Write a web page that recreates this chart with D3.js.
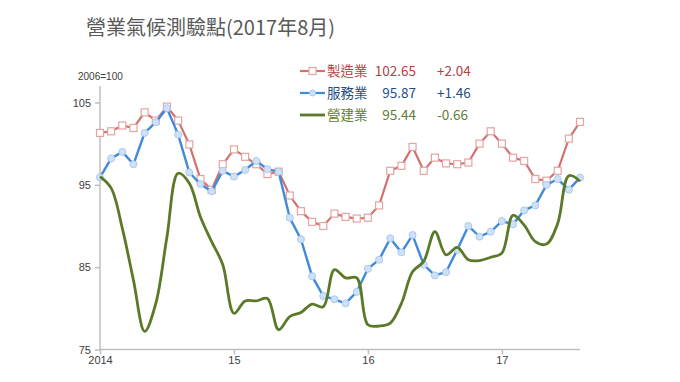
<!DOCTYPE html>
<html><head><meta charset="utf-8">
<script src="https://cdn.jsdelivr.net/npm/d3@7"></script>
<style>
html,body{margin:0;padding:0;background:#fff;}
svg{display:block;font-family:"Noto Sans CJK TC","Noto Sans",sans-serif;}
</style></head>
<body>
<svg id="c" width="680" height="382"></svg>
<script>
const title = "營業氣候測驗點(2017年8月)";
const unitLabel = "2006=100";
const yTicks = [75, 85, 95, 105];
const xTickIdx = [0, 12, 24, 36];
const xTickLabels = ["2014", "15", "16", "17"];
const seriesNames = ["製造業", "服務業", "營建業"];
const latestText = ["102.65", "95.87", "95.44"];
const changeText = ["+2.04", "+1.46", "-0.66"];

// monthly Jan 2014 .. Aug 2017
const manufacturing = [101.3,101.5,102.2,101.9,103.8,102.8,104.5,102.8,99.9,95.7,94.4,97.5,
  99.3,98.4,97.5,96.3,96.6,93.7,91.8,90.5,90.0,91.5,91.1,90.9,
  91.0,92.5,96.7,97.3,99.6,96.7,98.3,97.6,97.5,97.7,100.0,101.5,
  100.0,98.3,97.9,95.7,95.5,96.7,100.61,102.65];
const services = [95.9,98.2,99.0,97.5,101.3,102.6,104.3,101.1,96.5,95.1,94.2,96.7,
  96.0,96.8,97.9,96.9,96.6,91.0,88.4,83.9,81.5,81.1,80.6,82.0,
  84.8,85.9,88.5,86.8,88.9,85.3,84.0,84.4,87.1,90.0,88.7,89.3,
  90.6,90.2,91.9,92.5,95.0,95.7,94.41,95.87];
const construction = [96.0,94.6,89.7,83.4,77.2,80.6,88.7,96.4,95.2,91.1,88.1,85.3,
  79.4,80.9,80.9,81.2,77.4,79.0,79.5,80.5,80.2,84.7,83.7,83.7,
  78.0,77.85,78.2,80.6,84.45,85.7,89.3,86.5,87.4,85.9,85.8,86.2,
  86.7,91.3,90.1,88.1,87.8,90.3,96.1,95.44];

const svg = d3.select("#c");
const x = d3.scaleLinear().domain([0, manufacturing.length - 1]).range([100, 580]);
const y = d3.scaleLinear().domain([75, 107]).range([349.5, 86]);

// title
svg.append("text").attr("x", 86).attr("y", 35).attr("font-size", 20).attr("fill", "#595959").text(title);
svg.append("text").attr("x", 78).attr("y", 80).attr("font-size", 10).attr("fill", "#404040")
  .attr("font-family", "'Liberation Sans',Arial,sans-serif").text(unitLabel);

// axes
const axisColor = "#bfbfbf";
const gy = svg.append("g").attr("transform", "translate(100,0)")
  .call(d3.axisLeft(y).tickValues(yTicks).tickSize(5).tickPadding(4));
const gx = svg.append("g").attr("transform", "translate(0,349.5)")
  .call(d3.axisBottom(x).tickValues(xTickIdx).tickFormat((d, i) => xTickLabels[i]).tickSize(5).tickPadding(2));
[gy, gx].forEach(g => {
  g.select(".domain").attr("stroke", axisColor).attr("stroke-width", 1.5);
  g.selectAll(".tick line").attr("stroke", axisColor).attr("stroke-width", 1.5);
  g.selectAll("text").attr("font-size", 11).attr("fill", "#404040")
    .attr("font-family", "'Liberation Sans',Arial,sans-serif");
});
gy.select(".domain").attr("d", `M0,${y(107)}V${y(75)}`);
gx.select(".domain").attr("d", `M${x(0)},0H${x(manufacturing.length - 1)}`);

const idx = d3.range(manufacturing.length);
const lineStraight = d => d3.line().x((v, i) => x(i)).y(v => y(v))(d);
const lineSmooth = d => d3.line().x((v, i) => x(i)).y(v => y(v)).curve(d3.curveCatmullRom.alpha(0.5))(d);

const redLine = "#d2716f", redStroke = "#e7a3a2";
const blueLine = "#4389d9", blueFill = "#cfe1f6", blueStroke = "#a9c9ef";
const greenLine = "#5a7a2a";

// manufacturing
svg.append("path").attr("d", lineStraight(manufacturing)).attr("fill", "none")
  .attr("stroke", redLine).attr("stroke-width", 2.2);
svg.append("g").selectAll("rect").data(manufacturing).join("rect")
  .attr("x", (v, i) => x(i) - 3.5).attr("y", v => y(v) - 3.5).attr("width", 7).attr("height", 7)
  .attr("fill", "#fff").attr("stroke", redStroke).attr("stroke-width", 1.2);

// services
svg.append("path").attr("d", lineStraight(services)).attr("fill", "none")
  .attr("stroke", blueLine).attr("stroke-width", 2.4);
svg.append("g").selectAll("circle").data(services).join("circle")
  .attr("cx", (v, i) => x(i)).attr("cy", v => y(v)).attr("r", 3.5)
  .attr("fill", blueFill).attr("stroke", blueStroke).attr("stroke-width", 1);

// construction
svg.append("path").attr("d", lineSmooth(construction)).attr("fill", "none")
  .attr("stroke", greenLine).attr("stroke-width", 2.8);

// legend
const legColors = [redLine, blueLine, greenLine];
const textColors = ["#b8403f", "#1f4e86", "#5f8033"];
const legY = [71, 93, 115];
seriesNames.forEach((name, k) => {
  const g = svg.append("g");
  const yy = legY[k];
  g.append("line").attr("x1", 300).attr("x2", 325).attr("y1", yy).attr("y2", yy)
    .attr("stroke", legColors[k]).attr("stroke-width", k === 2 ? 2.8 : 2.2);
  if (k === 0) g.append("rect").attr("x", 309).attr("y", yy - 3.5).attr("width", 7).attr("height", 7)
    .attr("fill", "#fff").attr("stroke", redStroke).attr("stroke-width", 1.2);
  if (k === 1) g.append("circle").attr("cx", 312.5).attr("cy", yy).attr("r", 3)
    .attr("fill", blueFill).attr("stroke", blueStroke);
  g.append("text").attr("x", 327).attr("y", yy + 5).attr("font-size", 13.5).attr("fill", textColors[k]).text(name);
  g.append("text").attr("x", 416).attr("y", yy + 5).attr("font-size", 13.5).attr("text-anchor", "end")
    .attr("fill", textColors[k]).text(latestText[k]);
  g.append("text").attr("x", 437).attr("y", yy + 5).attr("font-size", 13.5)
    .attr("fill", textColors[k]).text(changeText[k]);
});
</script>
</body></html>
